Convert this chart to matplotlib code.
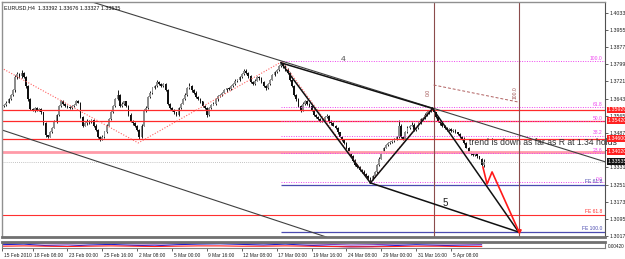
import matplotlib
matplotlib.use('Agg')
import matplotlib.pyplot as plt
import matplotlib.transforms as mtransforms

plt.rcParams['font.family'] = ['Liberation Sans', 'DejaVu Sans']

# ---- price data (H4 bars, EURUSD) ----
first_open = 1.3605
closes = [
    1.3610, 1.3615, 1.3625, 1.3640, 1.3660, 1.3680, 1.3740, 1.3755, 1.3745, 1.3760,
    1.3740, 1.3700, 1.3640, 1.3595, 1.3590, 1.3600, 1.3590, 1.3595, 1.3580, 1.3530,
    1.3475, 1.3470, 1.3490, 1.3510, 1.3540, 1.3570, 1.3610, 1.3630, 1.3620, 1.3610,
    1.3605, 1.3600, 1.3610, 1.3615, 1.3630, 1.3625, 1.3560, 1.3520, 1.3530, 1.3540,
    1.3535, 1.3545, 1.3520, 1.3500, 1.3470, 1.3460, 1.3470, 1.3490, 1.3520, 1.3550,
    1.3580, 1.3610, 1.3640, 1.3660, 1.3610, 1.3620, 1.3630, 1.3610, 1.3570, 1.3540,
    1.3530, 1.3520, 1.3500, 1.3470, 1.3520, 1.3590, 1.3600, 1.3650, 1.3670, 1.3690,
    1.3700, 1.3720, 1.3710, 1.3700, 1.3710, 1.3680, 1.3620, 1.3600, 1.3590, 1.3580,
    1.3570, 1.3600, 1.3620, 1.3640, 1.3660, 1.3690, 1.3700, 1.3680, 1.3670, 1.3650,
    1.3640, 1.3630, 1.3610, 1.3600, 1.3570, 1.3600, 1.3615, 1.3620, 1.3640, 1.3655,
    1.3660, 1.3670, 1.3680, 1.3690, 1.3685, 1.3700, 1.3710, 1.3725, 1.3730, 1.3740,
    1.3755, 1.3770, 1.3760, 1.3745, 1.3720, 1.3710, 1.3725, 1.3740, 1.3735, 1.3720,
    1.3700, 1.3690, 1.3710, 1.3730, 1.3750, 1.3765, 1.3775, 1.3790, 1.3800, 1.3790,
    1.3775, 1.3760, 1.3730, 1.3700, 1.3660, 1.3640, 1.3610, 1.3590, 1.3620, 1.3630,
    1.3620, 1.3610, 1.3590, 1.3570, 1.3560, 1.3550, 1.3540, 1.3545, 1.3560, 1.3565,
    1.3540, 1.3530, 1.3520, 1.3510, 1.3490, 1.3470, 1.3455, 1.3440, 1.3420, 1.3400,
    1.3380, 1.3360, 1.3340, 1.3330, 1.3320, 1.3310, 1.3300, 1.3290, 1.3280, 1.3275,
    1.3290, 1.3310, 1.3340, 1.3370, 1.3400, 1.3420, 1.3430, 1.3440, 1.3445, 1.3450,
    1.3460, 1.3470, 1.3520, 1.3470, 1.3460, 1.3490, 1.3510, 1.3520, 1.3525, 1.3500,
    1.3510, 1.3530, 1.3550, 1.3555, 1.3570, 1.3580, 1.3585, 1.3595, 1.3580, 1.3560,
    1.3540, 1.3530, 1.3520, 1.3510, 1.3500, 1.3505, 1.3495, 1.3500, 1.3490, 1.3480,
    1.3470, 1.3460, 1.3440, 1.3420, 1.3400, 1.3390, 1.3385, 1.3390, 1.3380, 1.3370,
    1.3339, 1.3354,
]
# wick sizes in pips above / below the body
up_wick = [
    4, 3, 5, 4, 6, 5, 12, 8, 6, 13, 5, 4, 6, 5, 7, 6, 4, 5, 3, 4,
    5, 4, 6, 3, 5, 4, 6, 8, 5, 4, 5, 3, 6, 4, 7, 5, 4, 6, 5, 8,
    4, 5, 3, 6, 4, 3, 5, 4, 6, 5, 7, 4, 8, 22, 5, 6, 4, 3, 5, 6,
    4, 5, 3, 4, 6, 5, 8, 4, 6, 5, 7, 10, 5, 6, 4, 5, 6, 3, 4, 5,
    4, 6, 5, 4, 7, 5, 12, 4, 5, 6, 3, 5, 4, 6, 4, 5, 3, 6, 4, 5,
    6, 4, 5, 3, 6, 4, 5, 7, 4, 6, 5, 8, 6, 4, 5, 3, 6, 7, 4, 5,
    4, 6, 5, 4, 6, 5, 4, 6, 12, 5, 4, 6, 5, 4, 6, 5, 4, 5, 6, 8,
    5, 4, 6, 5, 4, 5, 3, 6, 5, 10, 4, 5, 6, 4, 5, 3, 4, 5, 6, 4,
    5, 4, 6, 3, 5, 4, 6, 3, 4, 5, 6, 4, 5, 6, 4, 3, 6, 4, 5, 4,
    5, 4, 25, 6, 4, 5, 6, 4, 10, 5, 4, 6, 5, 4, 6, 5, 4, 7, 5, 4,
    5, 4, 6, 3, 5, 4, 6, 5, 4, 3, 5, 4, 6, 5, 4, 3, 5, 4, 6, 3,
    4, 14,
]
dn_wick = [
    3, 5, 4, 3, 5, 4, 6, 8, 10, 6, 5, 8, 6, 5, 4, 6, 5, 4, 6, 7,
    5, 8, 4, 5, 3, 6, 4, 5, 6, 4, 5, 6, 4, 5, 3, 4, 6, 5, 4, 5,
    6, 4, 5, 6, 5, 8, 4, 5, 3, 4, 5, 4, 3, 4, 6, 5, 4, 5, 6, 4,
    5, 6, 4, 12, 5, 4, 6, 3, 5, 4, 5, 4, 6, 5, 4, 3, 5, 6, 4, 5,
    6, 4, 5, 3, 4, 5, 4, 6, 5, 4, 5, 6, 4, 5, 10, 4, 5, 3, 4, 6,
    4, 5, 3, 6, 4, 5, 3, 4, 6, 5, 4, 3, 5, 6, 4, 5, 4, 3, 5, 6,
    5, 6, 4, 5, 3, 4, 5, 4, 3, 6, 5, 4, 6, 5, 4, 6, 5, 10, 4, 5,
    6, 4, 5, 4, 6, 5, 4, 3, 5, 4, 6, 5, 4, 5, 6, 4, 5, 4, 6, 5,
    4, 6, 5, 4, 5, 6, 4, 5, 6, 13, 5, 4, 6, 5, 4, 5, 3, 4, 6, 5,
    4, 6, 5, 8, 5, 4, 3, 5, 4, 6, 5, 4, 3, 5, 4, 6, 5, 4, 3, 5,
    4, 5, 6, 4, 5, 3, 6, 4, 5, 4, 6, 5, 4, 3, 5, 6, 4, 5, 6, 4,
    5, 6,
]

# axis labels
price_ticks = [1.30170, 1.30950, 1.31730, 1.32510, 1.33310, 1.34090, 1.34870,
               1.35650, 1.36430, 1.37210, 1.37990, 1.38770, 1.39550, 1.40330]
date_bars = [0, 14, 30, 46, 62, 78, 94, 110, 126, 142, 158, 174, 190, 206]
date_labels = ['15 Feb 2010', '18 Feb 08:00', '23 Feb 00:00', '25 Feb 16:00',
               '2 Mar 08:00', '5 Mar 00:00', '9 Mar 16:00', '12 Mar 08:00',
               '17 Mar 00:00', '19 Mar 16:00', '24 Mar 08:00', '29 Mar 00:00',
               '31 Mar 16:00', '5 Apr 08:00']

# drawn objects
red_levels = [1.3592, 1.3542, 1.3460]
red_level_tags = ['1.35920', '1.35420', '1.34600']
pink_level = 1.3402
pink_tag = '1.34020'
bid = 1.33535
fib_prices = [1.3814, 1.3604, 1.3539, 1.3473, 1.3395, 1.3263]
fib_labels = ['100.0', '61.8', '50.0', '38.2', '23.6', '0.0']
fe_blue = [1.3250, 1.3035]
fe_blue_labels = ['FE 61.8', 'FE 100.0']
fe_red = 1.3113
vlines_bars = [198, 237]

wave_bars = [128, 169, 197.5, 237]          # A, B, C, D
wave_prices = [1.3806, 1.3259, 1.3598, 1.3035]
trend_pts = [(128, 1.3815), (197.5, 1.3600)]
channel_pts = [(0, 1.3500), (148, 1.3015)]
zz_bars = [-2, 62.5, 128.5, 169, 197.5]
zz_prices = [1.3792, 1.3441, 1.3812, 1.3260, 1.3602]
proj_bars = [220.6, 222.5, 224.8, 237.2]
proj_prices = [1.3331, 1.3254, 1.3309, 1.3035]
time_bars = [198, 237]
time_prices = [1.3705, 1.3627]

osc_bars = [0, 10, 20, 30, 40, 50, 60, 70, 80, 90, 100, 110, 120, 130, 140,
            150, 160, 170, 180, 190, 200, 210, 220]
osc_blue = [0.1, 0.3, -0.2, -0.4, 0.0, 0.2, -0.1, -0.3, 0.1, 0.3, 0.4, 0.2,
            0.0, 0.3, -0.1, -0.4, -0.6, -0.5, -0.2, 0.1, -0.1, -0.3, -0.4]
osc_red = [-0.4, -0.3, -0.4, -0.5, -0.4, -0.3, -0.4, -0.5, -0.4, -0.3, -0.3,
           -0.4, -0.4, -0.3, -0.4, -0.5, -0.6, -0.6, -0.5, -0.4, -0.4, -0.5, -0.5]
osc_purple = [0.5, 0.6, 0.4, 0.3, 0.5, 0.6, 0.4, 0.3, 0.5, 0.6, 0.7, 0.6,
              0.5, 0.6, 0.4, 0.2, 0.0, 0.1, 0.3, 0.5, 0.4, 0.3, 0.2]

XMAX = 276.6
fig = plt.figure(figsize=(6.25, 2.59), dpi=100)
ax = fig.add_axes([2 / 625, 22 / 259, 603 / 625, 235 / 259])
axi = fig.add_axes([2 / 625, 11 / 259, 603 / 625, 6 / 259])

ax.set_xlim(0, XMAX)
ax.set_ylim(1.30125, 1.40831)

# candles
opens = [first_open] + closes[:-1]
for i, (o, c) in enumerate(zip(opens, closes)):
    hi = max(o, c) + up_wick[i] / 10000
    lo = min(o, c) - dn_wick[i] / 10000
    ax.vlines(i, lo, hi, color='#1a1a1a', lw=0.7, zorder=1)
    body = c - o if abs(c - o) > 0.00008 else 0.00008
    ax.bar(i, body, bottom=o, width=0.8,
           color='#8c8c8c' if c >= o else '#101010', lw=0, zorder=1.2)

# horizontal levels
for p in red_levels:
    ax.axhline(p, color='#ff2a2a', lw=0.9, zorder=2)
ax.axhline(pink_level, color='#ff9aa8', lw=2.0, zorder=2)
ax.axhline(fe_red, color='#ff3030', lw=0.8, zorder=2)
ax.axhline(bid, color='#b0b0b0', lw=0.6, ls=(0, (1, 1.5)), zorder=2)
ax.hlines(fib_prices, 128, XMAX, colors='#ee44ee', lw=0.7,
          linestyles=(0, (1, 1.5)), zorder=2)
for p, lab in zip(fib_prices, fib_labels):
    ax.text(XMAX - 1.2, p + 0.0002, lab, ha='right', va='bottom',
            fontsize=3.6, color='#ee44ee', zorder=4)
ax.hlines(fe_blue, 128, XMAX, colors='#4b4bb0', lw=0.9, zorder=2)
for p, lab in zip(fe_blue, fe_blue_labels):
    ax.text(XMAX - 1.2, p + 0.0003, lab, ha='right', va='bottom',
            fontsize=3.6, color='#4b4bb0', zorder=4)
ax.text(XMAX - 1.2, fe_red + 0.0003, 'FE 61.8', ha='right', va='bottom',
        fontsize=3.6, color='#ff3030', zorder=4)

for b in vlines_bars:
    ax.axvline(b, color='#8b4c4c', lw=0.8, zorder=2)

# trend / channel lines
ax.axline(trend_pts[0], trend_pts[1], color='#404040', lw=0.8, zorder=2)
ax.axline(channel_pts[0], channel_pts[1], color='#404040', lw=0.8, zorder=2)

# zigzag (dotted red)
ax.plot(zz_bars, zz_prices, color='#ff6060', lw=0.8, ls=(0, (1, 1.5)), zorder=2)

# wave lines
A, B, C, D = list(zip(wave_bars, wave_prices))
for p1, p2 in [(A, B), (B, C), (C, D), (A, C), (B, D)]:
    ax.plot([p1[0], p2[0]], [p1[1], p2[1]], color='#111111', lw=1.1, zorder=3)

# projection path (red)
ax.plot(proj_bars, proj_prices, color='#ff1a1a', lw=1.2, zorder=3)
ax.plot(proj_bars[-1], proj_prices[-1] + 0.0006, marker='v', ms=2.5,
        color='#ff1a1a', zorder=3)

# time zone line
ax.plot(time_bars, time_prices, color='#b06060', lw=0.7, ls=(0, (3, 2)), zorder=2)
ax.text(195.4, 1.3669, '0.0', rotation=90, fontsize=3.6, color='#a05050',
        ha='center', va='center')
ax.text(235.3, 1.3669, '100.0', rotation=90, fontsize=3.6, color='#a05050',
        ha='center', va='center')

# annotations
ax.text(156.4, 1.3819, '4', fontsize=6, color='#505050', ha='center', va='center')
ax.text(203.2, 1.3167, '5', fontsize=7, color='#202020', ha='center', va='center')
ax.text(214.2, 1.3443, 'trend is down as far as R at 1.34 holds', fontsize=6.2,
        color='#303030', ha='left', va='center', clip_on=False, zorder=5)
ax.text(0.004, 0.988, 'EURUSD,H4  1.33392 1.33676 1.33327 1.33535',
        transform=ax.transAxes, fontsize=3.9, va='top', ha='left', color='#101010')

# right price scale
ax.yaxis.tick_right()
ax.set_yticks(price_ticks)
ax.set_yticklabels(['%.5f' % t for t in price_ticks])
ax.tick_params(axis='y', direction='out', length=2, width=0.5, labelsize=3.8,
               pad=1, colors='#202020')
ax.set_xticks([])

trans = mtransforms.blended_transform_factory(ax.transAxes, ax.transData)
for p, tag in zip(red_levels + [pink_level], red_level_tags + [pink_tag]):
    ax.text(1.004, p, tag, transform=trans, fontsize=3.8, color='white',
            ha='left', va='center', clip_on=False, zorder=6,
            bbox=dict(boxstyle='square,pad=0.15', fc='#ff2020', ec='none'))
ax.text(1.004, bid + 0.0003, '1.33535', transform=trans, fontsize=3.8,
        color='white', ha='left', va='center', clip_on=False, zorder=6,
        bbox=dict(boxstyle='square,pad=0.15', fc='#101010', ec='none'))

for s in ['top', 'left']:
    ax.spines[s].set_color('#909090')
    ax.spines[s].set_linewidth(1.0)
ax.spines['right'].set_color('#505050')
ax.spines['right'].set_linewidth(0.8)
ax.spines['bottom'].set_color('#707070')
ax.spines['bottom'].set_linewidth(2.0)

# indicator sub-window
axi.set_xlim(0, XMAX)
axi.set_ylim(-1, 1)
axi.plot(osc_bars, osc_purple, color='#8040c0', lw=0.8)
axi.plot(osc_bars, osc_blue, color='#2020d0', lw=0.8)
axi.plot(osc_bars, osc_red, color='#ff2020', lw=0.8)
axi.set_yticks([])
axi.set_xticks(date_bars)
axi.set_xticklabels(date_labels)
axi.tick_params(axis='x', direction='out', length=2, width=0.5, labelsize=3.5,
                pad=1.5, colors='#202020')
offset = mtransforms.ScaledTranslation(1.5 / 100, 0, fig.dpi_scale_trans)
for lab in axi.get_xticklabels():
    lab.set_horizontalalignment('left')
    lab.set_transform(lab.get_transform() + offset)
axi.text(1.004, 0.3, '0.00420', transform=axi.transAxes, fontsize=3.4,
         color='#202020', ha='left', va='center', clip_on=False)
axi.spines['top'].set_color('#707070')
axi.spines['top'].set_linewidth(2.0)
for s in ['left', 'right', 'bottom']:
    axi.spines[s].set_color('#808080')
    axi.spines[s].set_linewidth(0.8)

fig.savefig('out.png', dpi=100)
